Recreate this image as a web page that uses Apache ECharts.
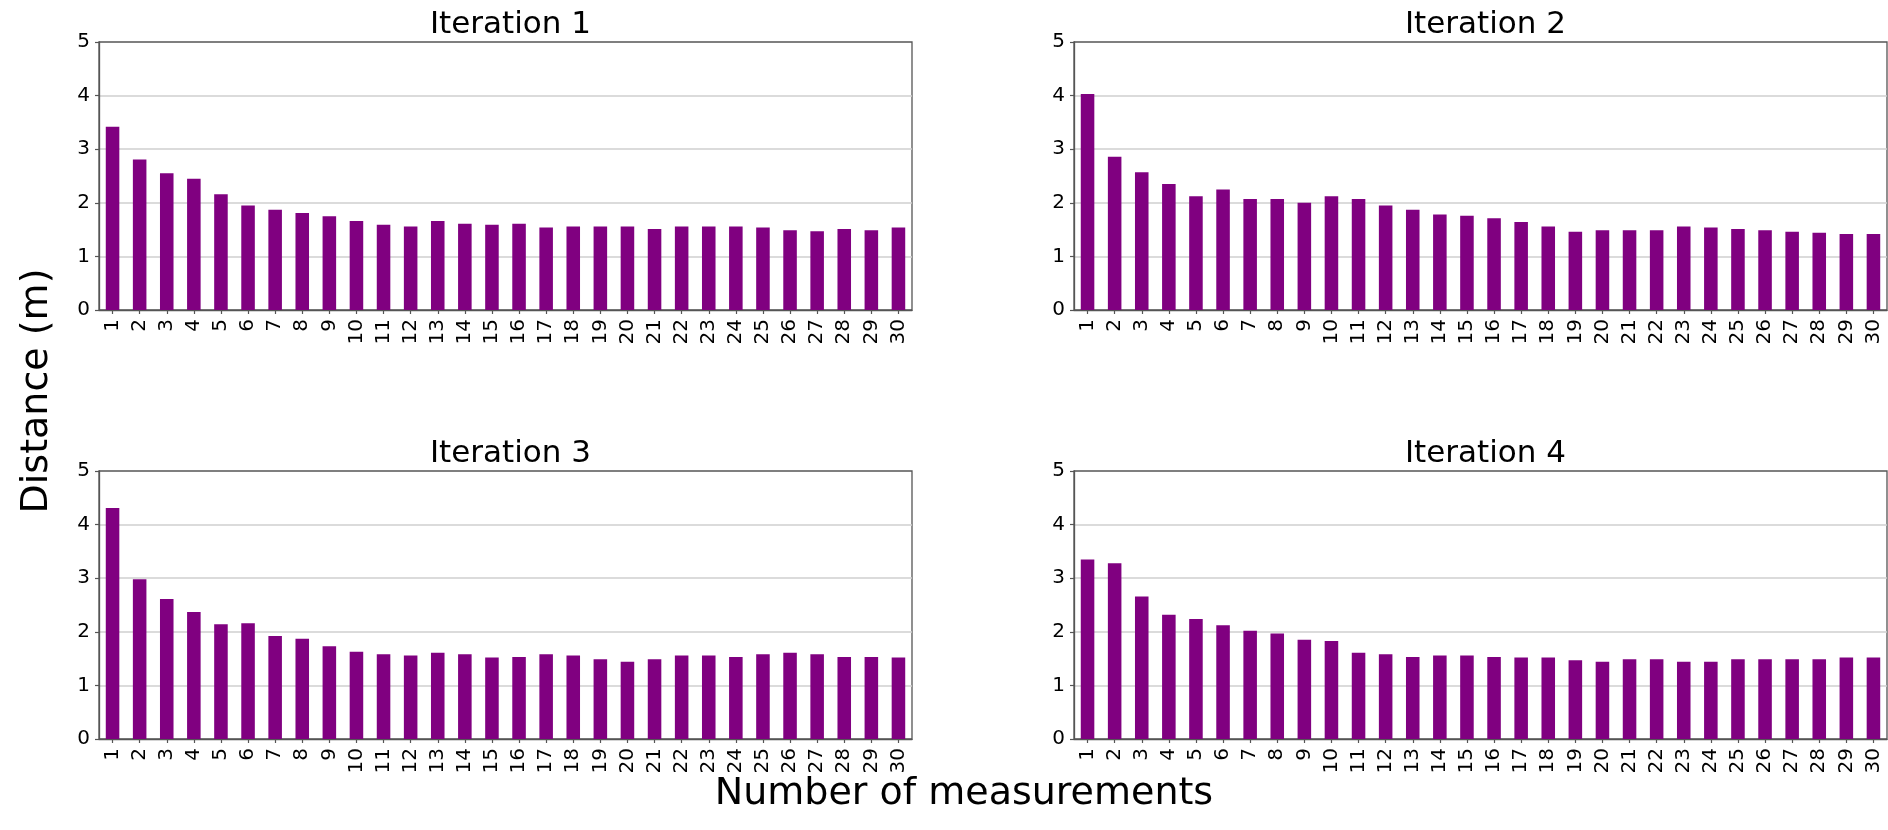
<!DOCTYPE html>
<html>
<head>
<meta charset="utf-8">
<script src="https://cdn.jsdelivr.net/npm/echarts@6/dist/echarts.min.js"></script>
<style>
html,body{margin:0;padding:0;background:#fff;}
#chart{width:1888px;height:830px;}
</style>
</head>
<body>
<div id="chart"></div>
<script>
const categories = ['1','2','3','4','5','6','7','8','9','10','11','12','13','14','15','16','17','18','19','20','21','22','23','24','25','26','27','28','29','30'];
const iteration1 = [3.42,2.81,2.55,2.45,2.16,1.95,1.87,1.81,1.75,1.66,1.59,1.56,1.66,1.61,1.59,1.61,1.54,1.56,1.56,1.56,1.51,1.56,1.56,1.56,1.54,1.49,1.47,1.51,1.49,1.54];
const iteration2 = [4.03,2.86,2.57,2.35,2.12,2.25,2.07,2.07,2.00,2.12,2.07,1.95,1.87,1.78,1.76,1.71,1.64,1.56,1.46,1.49,1.49,1.49,1.56,1.54,1.51,1.49,1.46,1.44,1.42,1.42];
const iteration3 = [4.31,2.98,2.61,2.37,2.14,2.16,1.92,1.87,1.73,1.63,1.58,1.56,1.61,1.58,1.52,1.53,1.58,1.56,1.49,1.44,1.49,1.56,1.56,1.53,1.58,1.61,1.58,1.53,1.53,1.52];
const iteration4 = [3.35,3.28,2.66,2.32,2.24,2.12,2.02,1.97,1.85,1.83,1.61,1.58,1.53,1.56,1.56,1.53,1.52,1.52,1.47,1.44,1.49,1.49,1.44,1.44,1.49,1.49,1.49,1.49,1.52,1.52];
const titles = ['Iteration 1','Iteration 2','Iteration 3','Iteration 4'];
const yTicks = [0,1,2,3,4,5];
const xLabel = 'Number of measurements';
const yLabel = 'Distance (m)';

const seriesData = [iteration1, iteration2, iteration3, iteration4];
const FONT = '"DejaVu Sans", sans-serif';
const grids = [
  {left:99, top:42, width:813, height:268},
  {left:1074, top:42, width:813, height:268},
  {left:99, top:471, width:813, height:268},
  {left:1074, top:471, width:813, height:268}
];

const option = {
  backgroundColor:'#fff',
  animation:false,
  title: grids.map((g,i)=>({
    text: titles[i],
    left: g.left + g.width/2,
    top: g.top - 38,
    textAlign:'center',
    textStyle:{fontFamily:FONT, fontSize:31, fontWeight:'normal', color:'#000'}
  })),
  grid: grids.map(g=>Object.assign({show:true, borderColor:'#555', borderWidth:1.3, backgroundColor:'transparent', containLabel:false}, g)),
  xAxis: grids.map((g,i)=>({
    type:'category', gridIndex:i, data:categories,
    axisLine:{show:true, lineStyle:{color:'#555', width:1.3}},
    axisTick:{show:true, alignWithLabel:true, length:4, lineStyle:{color:'#555', width:1.2}},
    axisLabel:{rotate:90, margin:9, fontFamily:FONT, fontSize:20, color:'#000', interval:0},
    splitLine:{show:false}
  })),
  yAxis: grids.map((g,i)=>({
    type:'value', gridIndex:i, min:yTicks[0], max:yTicks[yTicks.length-1], interval:1,
    axisLine:{show:true, lineStyle:{color:'#555', width:1.3}},
    axisTick:{show:true, length:4, lineStyle:{color:'#555', width:1.2}},
    axisLabel:{margin:9, fontFamily:FONT, fontSize:20, color:'#000'},
    splitLine:{show:true, showMinLine:false, showMaxLine:false, lineStyle:{color:'#cfcfcf', width:1.5}}
  })),
  series: seriesData.map((d,i)=>({
    type:'bar', xAxisIndex:i, yAxisIndex:i, data:d, barWidth:'50%',
    itemStyle:{color:'#800080'}
  })),
  graphic:[
    {type:'text', x:964, y:794, style:{text:xLabel, font:'38px "DejaVu Sans"', fill:'#000', textAlign:'center', textVerticalAlign:'middle'}},
    {type:'text', x:37, y:391, rotation:Math.PI/2, style:{text:yLabel, font:'38px "DejaVu Sans"', fill:'#000', textAlign:'center', textVerticalAlign:'middle'}}
  ]
};
const chart = echarts.init(document.getElementById('chart'), null, {renderer:'canvas'});
chart.setOption(option);
</script>
</body>
</html>
